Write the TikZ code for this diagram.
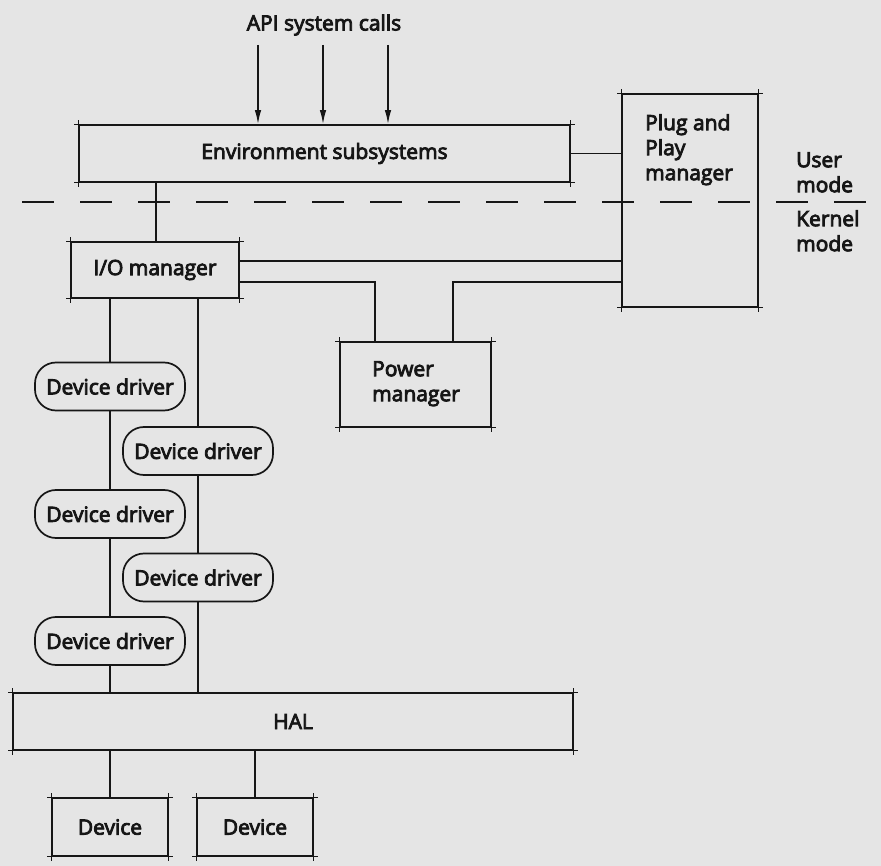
\documentclass[tikz,border=0pt]{standalone}
\usepackage{fontspec}
\setmainfont{Open Sans}[FakeBold=4]
\usetikzlibrary{arrows.meta,calc}
\definecolor{paper}{RGB}{229,229,229}
\definecolor{ink}{RGB}{22,22,22}
\newcommand\boxticks[1]{%
  \draw[ink, line width=1.1pt, shorten <=-4pt, shorten >=-4pt] (#1.north west) -- (#1.north east);
  \draw[ink, line width=1.1pt, shorten <=-4pt, shorten >=-4pt] (#1.south west) -- (#1.south east);
  \draw[ink, line width=1.1pt, shorten <=-4pt, shorten >=-4pt] (#1.north west) -- (#1.south west);
  \draw[ink, line width=1.1pt, shorten <=-4pt, shorten >=-4pt] (#1.north east) -- (#1.south east);}
\begin{document}
\begin{tikzpicture}[x=1pt,y=-1pt,
  font=\fontsize{21}{25}\selectfont,
  every node/.style={text=ink},
  box/.style={draw=ink, line width=1.8pt, inner sep=0pt},
  drv/.style={draw=ink, line width=1.7pt, rounded corners=21pt, minimum width=150pt, minimum height=48pt, inner sep=0pt},
  wire/.style={draw=ink, line width=1.4pt},
  lbl/.style={anchor=north west, inner sep=0pt, align=left},
  arr/.style={wire, -{Latex[length=14pt,width=6.5pt]}}
]
\fill[paper] (0,0) rectangle (881,866);
\useasboundingbox (0,0) rectangle (881,866);

% boxes
\node[box, minimum width=491pt, minimum height=57pt, yshift=-2pt] (env) at (324.5,151.5) {Environment subsystems};
\node[box, minimum width=136pt, minimum height=213pt] (pnp) at (690,200.5) {};
\node[lbl] (pnptext) at (645,114) {Plug and\\Play\\manager};
\node[box, minimum width=168pt, minimum height=56pt] (io) at (155,270) {I/O manager};
\node[box, minimum width=151pt, minimum height=85pt] (pm) at (415.5,384.5) {};
\node[lbl] (pmtext) at (372,361) {Power\\manager};
\node[box, minimum width=560pt, minimum height=57pt] (hal) at (293,721.5) {HAL};
\node[box, minimum width=116pt, minimum height=58pt] (dev1) at (110,827) {Device};
\node[box, minimum width=116pt, minimum height=58pt] (dev2) at (255,827) {Device};
\foreach \n in {env,pnp,io,pm,hal,dev1,dev2} {\boxticks{\n}}

% device drivers
\node[drv] (dd1) at (110,386.5) {Device driver};
\node[drv] (dd2) at (198,451) {Device driver};
\node[drv] (dd3) at (110,514) {Device driver};
\node[drv] (dd4) at (198,577.5) {Device driver};
\node[drv] (dd5) at (110,641) {Device driver};

% labels
\node (api) at (324,25) {API system calls};
\node[lbl] (user) at (796,152) {User\\mode};
\node[lbl] (kernel) at (796,210) {Kernel\\mode};

% user/kernel boundary
\coordinate (dl) at (22,202);
\coordinate (dr) at (881,202);
\draw[wire, dash pattern=on 32pt off 26pt] (dl) -- (dr);

% API calls
\coordinate (a1) at (258,45);
\coordinate (a2) at (323,45);
\coordinate (a3) at (388,45);
\foreach \a in {a1,a2,a3} {\draw[arr] (\a) -- (\a |- env.north);}

% helper coordinates
\coordinate (y261) at (0,261);
\coordinate (y282) at (0,282);
\coordinate (xenv) at (156,0);
\coordinate (xl) at (110,0);
\coordinate (xr) at (198,0);
\coordinate (pmA) at ($(pm.north west)+(36,0)$);
\coordinate (pmB) at ($(pm.north west)+(114,0)$);

% connectors
\draw[wire] (env.south -| xenv) -- (io.north -| xenv);
\draw[wire] (env.east) -- (env.east -| pnp.west);
\draw[wire] (io.east |- y261) -- (pnp.west |- y261);
\draw[wire] (io.east |- y282) -| (pmA);
\draw[wire] (pmB) |- (pnp.west |- y282);

\draw[wire] (io.south -| xl) -- (dd1.north);
\draw[wire] (dd1.south) -- (dd3.north);
\draw[wire] (dd3.south) -- (dd5.north);
\draw[wire] (dd5.south) -- (hal.north -| xl);
\draw[wire] (io.south -| xr) -- (dd2.north);
\draw[wire] (dd2.south) -- (dd4.north);
\draw[wire] (dd4.south) -- (hal.north -| xr);

\draw[wire] (hal.south -| dev1.north) -- (dev1.north);
\draw[wire] (hal.south -| dev2.north) -- (dev2.north);
\end{tikzpicture}
\end{document}
